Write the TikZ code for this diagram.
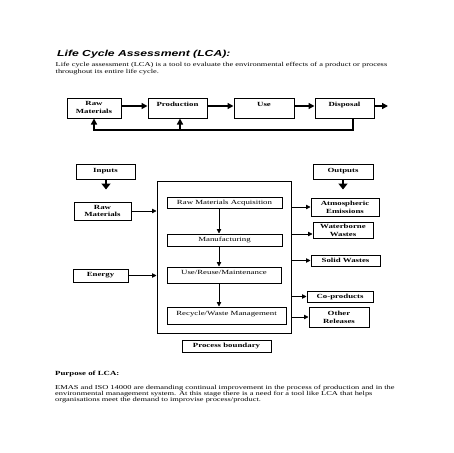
\documentclass[tikz,border=0pt]{standalone}
\usepackage{fontspec}
\setmainfont{Liberation Serif}[FakeStretch=1.4]
\newfontfamily\titlefont{Liberation Sans}[FakeStretch=1.4]
\usetikzlibrary{arrows.meta}
\tikzset{
  box/.style={draw, line width=1pt, inner sep=0pt, align=center,
    font=\fontsize{6.3}{7.8}\selectfont\bfseries},
  ibox/.style={box, font=\fontsize{6.3}{7.8}\selectfont},
  tarr/.style={line width=1.4pt, -{Triangle[length=6pt,width=6pt]}},
  sarr/.style={line width=0.8pt, -{Triangle[length=4.5pt,width=4.5pt]}},
  bigarr/.style={line width=2.2pt, -{Triangle[length=6pt,width=9pt]}},
  txt/.style={inner sep=0pt, align=left},
}
\begin{document}
\begin{tikzpicture}[x=1pt,y=-1pt]
\useasboundingbox (0,0) rectangle (453,453);
\fill[white] (0,0) rectangle (453,453);

% heading and intro
\node[txt, anchor=base west, font=\titlefont\fontsize{8.7}{10}\selectfont\bfseries\itshape] (title) at (57,56.7) {Life Cycle Assessment (LCA):};
\node[txt, anchor=north west, font=\fontsize{6}{7.3}\selectfont] (intro) at (55.5,61.6)
  {Life cycle assessment (LCA) is a tool to evaluate the environmental effects of a product or process\\throughout its entire life cycle.};

% top row
\node[box, minimum width=54, text height=15.5pt, text depth=4.5pt] (rm) at (94,108) {Raw\\Materials};
\node[box, minimum width=59, text height=8pt, text depth=12pt] (prod) at (177.5,108) {Production};
\node[box, minimum width=60, text height=8pt, text depth=12pt] (use) at (264,108) {Use};
\node[box, minimum width=59, text height=8pt, text depth=12pt] (disp) at (344.5,108) {Disposal};

\coordinate (rowy) at (0,106);
\coordinate (rowend) at (388,106);
\draw[tarr] (rm.east |- rowy) -- (prod.west |- rowy);
\draw[tarr] (prod.east |- rowy) -- (use.west |- rowy);
\draw[tarr] (use.east |- rowy) -- (disp.west |- rowy);
\draw[tarr] (disp.east |- rowy) -- (rowend);

\coordinate (fbd) at (353,130);
\coordinate (fbr) at (94,130);
\coordinate (fbp) at (180,130);
\draw[tarr] (disp.south -| fbd) -- (fbd) -- (fbr) -- (rm.south);
\draw[tarr] (fbp) -- (prod.south -| fbp);

% inputs side
\node[box, minimum width=59, minimum height=15] (inputs) at (105.5,171.5) {Inputs};
\coordinate (inarr) at (106,189.5);
\draw[bigarr] (inputs.south -| inarr) -- (inarr);
\node[box, minimum width=57, minimum height=18] (rawin) at (102.5,211) {Raw\\Materials};
\node[box, minimum width=55, minimum height=13] (energy) at (100.5,275.5) {Energy};

% process boundary
\node[draw, line width=1pt, minimum width=134, minimum height=152, inner sep=0pt] (boundary) at (224,257) {};
\node[ibox, minimum width=115, minimum height=11] (rma) at (224.5,202.5) {Raw Materials Acquisition};
\node[ibox, minimum width=115, minimum height=12] (manu) at (224.5,240) {Manufacturing};
\node[ibox, minimum width=114, text height=7pt, text depth=9pt] (usebox) at (224,275) {Use/Reuse/Maintenance};
\node[ibox, minimum width=119, text height=8pt, text depth=9pt] (recyc) at (226.5,315.5) {Recycle/Waste Management};
\node[box, minimum width=89, minimum height=12] (pb) at (226.5,346) {Process boundary};

\coordinate (vx) at (219,0);
\draw[sarr] (rma.south -| vx) -- (manu.north -| vx);
\draw[sarr] (manu.south -| vx) -- (usebox.north -| vx);
\draw[sarr] (usebox.south -| vx) -- (recyc.north -| vx);

\draw[sarr] (rawin.east) -- (rawin.east -| boundary.west);
\draw[sarr] (energy.east) -- (energy.east -| boundary.west);

% outputs side
\node[box, minimum width=60, minimum height=15] (outputs) at (343,171.5) {Outputs};
\coordinate (outarr) at (343,189.5);
\draw[bigarr] (outputs.south -| outarr) -- (outarr);
\node[box, minimum width=68, minimum height=18] (atm) at (345,207) {Atmospheric\\Emissions};
\node[box, minimum width=60, minimum height=16] (water) at (343,230) {Waterborne\\Wastes};
\node[box, minimum width=69, minimum height=11] (solid) at (345.5,260.5) {Solid Wastes};
\node[box, minimum width=66, minimum height=11] (coprod) at (340,296.5) {Co-products};
\node[box, minimum width=60, minimum height=20] (other) at (339,317) {Other\\Releases};

\coordinate (wy) at (0,234);
\draw[sarr] (boundary.east |- atm) -- (atm.west);
\draw[sarr] (boundary.east |- wy) -- (water.west |- wy);
\draw[sarr] (boundary.east |- solid) -- (solid.west);
\draw[sarr] (boundary.east |- coprod) -- (coprod.west);
\draw[sarr] (boundary.east |- other) -- (other.west);

% purpose
\node[txt, anchor=base west, font=\fontsize{6.3}{7}\selectfont\bfseries] (purp) at (55,375) {Purpose of LCA:};
\node[txt, anchor=north west, font=\fontsize{6}{6}\selectfont] (para) at (55,385.2)
  {EMAS and ISO 14000 are demanding continual improvement in the process of production and in the\\
   environmental management system. At this stage there is a need for a tool like LCA that helps\\
   organisations meet the demand to improvise process/product.};
\end{tikzpicture}
\end{document}
